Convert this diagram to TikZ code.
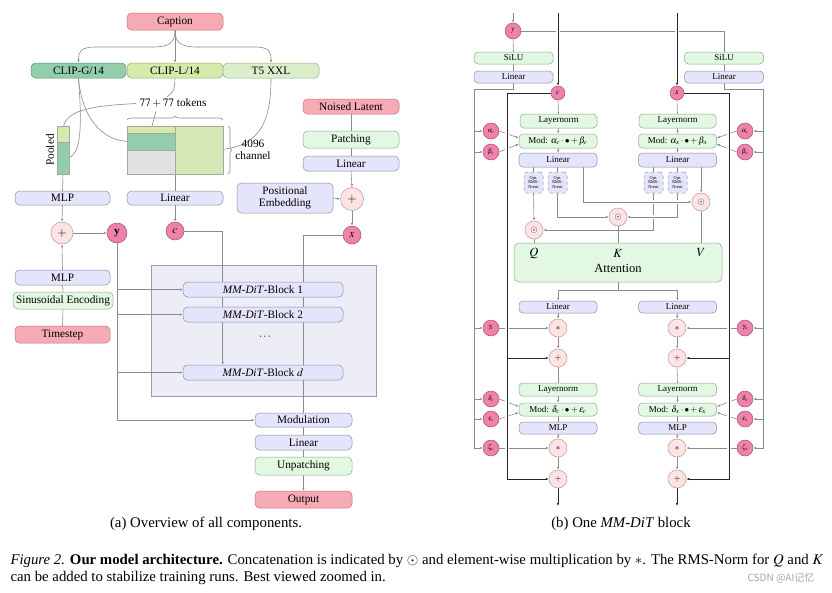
\documentclass[tikz,border=0pt]{standalone}
\usepackage{mathptmx}
\usepackage[no-math]{fontspec}
\setmainfont{Liberation Serif}
\newfontfamily\cjk{Noto Sans CJK SC}
\usetikzlibrary{arrows.meta,decorations.pathreplacing,calc}
\definecolor{pinkF}{HTML}{F6AAB4}\definecolor{pinkD}{HTML}{C86E7D}
\definecolor{dpinkF}{HTML}{EE82AA}\definecolor{dpinkD}{HTML}{AA506E}
\definecolor{lpinkF}{HTML}{FDE4E4}\definecolor{lpinkD}{HTML}{BE9696}
\definecolor{lavF}{HTML}{E4E4FA}\definecolor{lavD}{HTML}{8C8CAA}
\definecolor{mintF}{HTML}{E2F8E2}\definecolor{mintD}{HTML}{8CAA8C}
\definecolor{clipG}{HTML}{92CEAC}\definecolor{clipGD}{HTML}{5A8C6E}
\definecolor{clipL}{HTML}{D6EAAC}\definecolor{clipLD}{HTML}{96AA6E}
\definecolor{tfive}{HTML}{DAEECA}\definecolor{tfiveD}{HTML}{96AF8C}
\definecolor{mRight}{HTML}{D4E8B6}\definecolor{mGray}{HTML}{E2E2E2}
\definecolor{blockbg}{HTML}{EDEDF8}\definecolor{blockD}{HTML}{9A9AB0}
\definecolor{lineG}{HTML}{8C8C8C}
\pgfdeclarelayer{back}\pgfdeclarelayer{bg}\pgfsetlayers{back,bg,main}
\tikzset{
  fA/.style={font=\fontsize{11.3}{12.5}\selectfont},
  bxA/.style={draw, rounded corners=4.5pt, line width=0.5pt, inner sep=0pt, fA},
  bxB/.style={draw, rounded corners=4pt, line width=0.5pt, inner sep=0pt, font=\fontsize{9}{10}\selectfont},
  lav/.style={fill=lavF, draw=lavD},
  mint/.style={fill=mintF, draw=mintD},
  pnk/.style={fill=pinkF, draw=pinkD},
  opc/.style={circle, draw=lpinkD, fill=lpinkF, line width=0.5pt, inner sep=0pt},
  var/.style={circle, draw=dpinkD, fill=dpinkF, line width=0.5pt, inner sep=0pt},
  mcell/.style={draw=gray!70, line width=0.4pt, inner sep=0pt, outer sep=0pt, anchor=north west},
  rms/.style={draw=lavD, dashed, fill=lavF, rounded corners=3pt, line width=0.5pt, inner sep=0pt,
     minimum width=19pt, minimum height=21pt, align=center, font=\fontsize{4.3}{4.8}\selectfont},
  ln/.style={draw=lineG, line width=0.6pt},
  tip/.style={-{Latex[length=3pt,width=2.4pt]}},
  arr/.style={ln, tip},
  ghar/.style={ln, tip, preaction={draw=white, line width=3.5pt}},
  blk/.style={draw=black!85, line width=1pt, tip, preaction={draw=white, line width=4.5pt}},
  blkp/.style={draw=black!85, line width=1pt, tip},
}
\begin{document}
\begin{tikzpicture}[x=1pt,y=-1pt]
\useasboundingbox (0,0) rectangle (832,592);
\begin{pgfonlayer}{back}
\fill[white] (0,0) rectangle (832,592);
\filldraw[fill=blockbg, draw=blockD, line width=0.6pt] (151,265) rectangle (376,396);
\end{pgfonlayer}

% ================= (a) nodes =================
\node[bxA,pnk,minimum width=96pt,minimum height=17pt] (cap) at (175,21.5) {Caption};
\node[bxA,fill=clipG,draw=clipGD,minimum width=95pt,minimum height=15pt] (clipg) at (78.5,70.5) {CLIP-G/14};
\node[bxA,fill=clipL,draw=clipLD,minimum width=96pt,minimum height=15pt] (clipl) at (175,70.5) {CLIP-L/14};
\node[bxA,fill=tfive,draw=tfiveD,minimum width=96pt,minimum height=15pt] (tfive) at (271,70.5) {T5 XXL};
\node[fA] (tok) at (173,103.5) {$77+77$ tokens};
\node[mcell,fill=clipL,minimum width=48pt,minimum height=7pt] (mtop) at (127,126) {};
\node[mcell,fill=clipG,minimum width=48pt,minimum height=17pt] (mmid) at (127,133) {};
\node[mcell,fill=mGray,minimum width=48pt,minimum height=24pt] (mbot) at (127,150) {};
\node[mcell,fill=mRight,minimum width=48pt,minimum height=48pt] (mright) at (175,126) {};
\node[mcell,fill=clipL,minimum width=12pt,minimum height=16pt] (ptop) at (57,126) {};
\node[mcell,fill=clipG,minimum width=12pt,minimum height=32pt] (pbot) at (57,142) {};
\node[fA,rotate=90] (pooled) at (50,150) {Pooled};
\node[fA,align=center] (chan) at (253,150) {4096\\channel};
\node[bxA,lav,minimum width=95pt,minimum height=14pt] (mlpa) at (62.5,198) {MLP};
\node[bxA,lav,minimum width=96pt,minimum height=14pt] (lina) at (175,198) {Linear};
\node[bxA,pnk,minimum width=96pt,minimum height=15pt] (noise) at (351,106.5) {Noised Latent};
\node[bxA,mint,minimum width=96pt,minimum height=17pt] (patch) at (351,139.5) {Patching};
\node[bxA,lav,minimum width=96pt,minimum height=15pt] (linb) at (351,163.5) {Linear};
\node[bxA,lav,minimum width=96pt,minimum height=30pt,align=center] (pos) at (285,198) {Positional\\Embedding};
\node[opc,minimum size=23pt,font=\fontsize{12}{12}\selectfont] (plusa) at (352,199) {$+$};
\node[opc,minimum size=22pt,font=\fontsize{12}{12}\selectfont] (plusb) at (62,233) {$+$};
\node[var,minimum size=20pt,fA] (ya) at (117,233) {\textbf{y}};
\node[var,minimum size=18pt,fA] (ca) at (175,231) {$c$};
\node[var,minimum size=18pt,fA] (xa) at (352,235) {$x$};
\node[bxA,lav,minimum width=95pt,minimum height=15pt] (mlpb) at (62.5,277.5) {MLP};
\node[bxA,mint,minimum width=100pt,minimum height=17pt] (sin) at (63,300.5) {Sinusoidal Encoding};
\node[bxA,pnk,minimum width=95pt,minimum height=17pt] (ts) at (62.5,334.5) {Timestep};
\node[bxA,lav,minimum width=160pt,minimum height=15pt] (b1) at (263,289.5) {\textit{MM-DiT}-Block 1};
\node[bxA,lav,minimum width=160pt,minimum height=15pt] (b2) at (263,314.5) {\textit{MM-DiT}-Block 2};
\node[fA] (dots) at (265,337) {$\cdots$};
\node[bxA,lav,minimum width=160pt,minimum height=15pt] (bd) at (263,372.5) {\textit{MM-DiT}-Block $d$};
\node[bxA,lav,minimum width=97pt,minimum height=14pt] (mod) at (303.5,420) {Modulation};
\node[bxA,lav,minimum width=97pt,minimum height=15pt] (lin3) at (303.5,442.5) {Linear};
\node[bxA,mint,minimum width=97pt,minimum height=18pt] (unp) at (303.5,466) {Unpatching};
\node[bxA,pnk,minimum width=97pt,minimum height=17pt] (out) at (303.5,499.5) {Output};

% ================= (b) nodes =================
\coordinate (topy) at (513,13); \coordinate (topc) at (558,13); \coordinate (topx) at (677,13);
\coordinate (railTL) at (474,89); \coordinate (railTR) at (763,89);
\coordinate (bkL) at (507,93); \coordinate (bkR) at (729,93);
\coordinate (outc) at (558,506); \coordinate (outx) at (677,506);
\node[var,minimum size=16pt,font=\fontsize{8}{8}\selectfont] (yr) at (513,31) {$y$};
\node[bxB,mint,minimum width=79pt,minimum height=12pt] (silL) at (513.5,58) {SiLU};
\node[bxB,lav,minimum width=79pt,minimum height=12pt] (linL) at (513.5,77) {Linear};
\node[bxB,mint,minimum width=79pt,minimum height=12pt] (silR) at (724,58) {SiLU};
\node[bxB,lav,minimum width=79pt,minimum height=12pt] (linR) at (724,77) {Linear};
\node[var,minimum size=14pt,font=\fontsize{8}{8}\selectfont] (cr) at (558,93) {$c$};
\node[var,minimum size=14pt,font=\fontsize{8}{8}\selectfont] (xr) at (677,93) {$x$};
\node[bxB,mint,minimum width=77pt,minimum height=14pt] (lnc) at (558.5,121) {Layernorm};
\node[bxB,mint,minimum width=78pt,minimum height=14pt] (modc) at (558,141) {Mod: $\alpha_c\cdot\bullet+\beta_c$};
\node[bxB,lav,minimum width=78pt,minimum height=14pt] (linc) at (558,160) {Linear};
\node[bxB,mint,minimum width=77pt,minimum height=14pt] (lnx) at (677.5,121) {Layernorm};
\node[bxB,mint,minimum width=78pt,minimum height=14pt] (modx) at (677.5,141) {Mod: $\alpha_x\cdot\bullet+\beta_x$};
\node[bxB,lav,minimum width=78pt,minimum height=14pt] (linx) at (677.5,160) {Linear};
\tikzset{gv/.style={var,minimum size=16pt,font=\fontsize{6.5}{7}\selectfont}}
\node[gv] (ac) at (491,131) {$\alpha_c$};
\node[gv] (bc) at (491,152) {$\beta_c$};
\node[gv] (ax) at (745,131) {$\alpha_x$};
\node[gv] (bx) at (745,152) {$\beta_x$};
\node[rms] (r1) at (533.5,182.5) {Opt.\\RMS-\\Norm};
\node[rms] (r2) at (557.5,182.5) {Opt.\\RMS-\\Norm};
\node[rms] (r3) at (653.5,182.5) {Opt.\\RMS-\\Norm};
\node[rms] (r4) at (677.5,182.5) {Opt.\\RMS-\\Norm};
\tikzset{oc/.style={opc,minimum size=18pt,font=\fontsize{9}{9}\selectfont}}
\node[oc] (catq) at (534,230) {$\odot$};
\node[oc] (catk) at (618,217) {$\odot$};
\node[oc] (catv) at (701,202) {$\odot$};
\node[draw=mintD,fill=mintF,rounded corners=5pt,line width=0.5pt,minimum width=208pt,minimum height=39pt,inner sep=0pt] (att) at (618,262.5) {};
\tikzset{fq/.style={font=\fontsize{12.5}{14}\selectfont}}
\node[fq] (ql) at (534,253) {$Q$};
\node[fq] (kl) at (618,253) {$K$};
\node[fq] (vl) at (701,253) {$V$};
\node[fq] (attl) at (618,268) {Attention};
\node[bxB,lav,minimum width=78pt,minimum height=12pt] (linc2) at (558,307) {Linear};
\node[bxB,lav,minimum width=78pt,minimum height=12pt] (linx2) at (677.5,307) {Linear};
\node[oc] (mulc1) at (558,328) {$\ast$};
\node[oc] (addc1) at (558,358) {$+$};
\node[oc] (mulx1) at (677,328) {$\ast$};
\node[oc] (addx1) at (677,358) {$+$};
\node[gv] (gc) at (491,328) {$\gamma_c$};
\node[gv] (gx) at (745,328) {$\gamma_x$};
\node[bxB,mint,minimum width=78pt,minimum height=13pt] (ln2c) at (558,389.5) {Layernorm};
\node[bxB,mint,minimum width=78pt,minimum height=13pt] (mod2c) at (558,409.5) {Mod: $\delta_c\cdot\bullet+\epsilon_c$};
\node[bxB,lav,minimum width=78pt,minimum height=12pt] (mlpc) at (558,428) {MLP};
\node[bxB,mint,minimum width=78pt,minimum height=13pt] (ln2x) at (677.5,389.5) {Layernorm};
\node[bxB,mint,minimum width=78pt,minimum height=13pt] (mod2x) at (677.5,409.5) {Mod: $\delta_x\cdot\bullet+\epsilon_x$};
\node[bxB,lav,minimum width=78pt,minimum height=12pt] (mlpx) at (677.5,428) {MLP};
\node[gv] (dc) at (491,399) {$\delta_c$};
\node[gv] (ec) at (491,419) {$\epsilon_c$};
\node[gv] (zc) at (491,448) {$\zeta_c$};
\node[gv] (dx) at (745,399) {$\delta_x$};
\node[gv] (ex) at (745,419) {$\epsilon_x$};
\node[gv] (zx) at (745,448) {$\zeta_x$};
\node[oc] (mulc2) at (558,448) {$\ast$};
\node[oc] (addc2) at (558,479) {$+$};
\node[oc] (mulx2) at (677,448) {$\ast$};
\node[oc] (addx2) at (677,479) {$+$};

% ================= captions =================
\tikzset{fC/.style={font=\fontsize{14.8}{17}\selectfont}}
\node[fC] (capa) at (206,524) {(a) Overview of all components.};
\node[fC] (capb) at (621,524) {(b) One \textit{MM-DiT} block};
\node[fC,anchor=west] (cl1) at (7,561) {\textit{Figure 2.} \textbf{Our model architecture.} Concatenation is indicated by $\odot$ and element-wise multiplication by $\ast$. The RMS-Norm for $Q$ and $K$};
\node[fC,anchor=west] (cl2) at (7,578) {can be added to stabilize training runs. Best viewed zoomed in.};
\node[anchor=east,text=gray!70,font=\cjk\fontsize{10}{12}\selectfont] (wm) at (818,578) {CSDN @AI记忆};

% ================= connectors =================
\begin{pgfonlayer}{bg}
% (a)
\draw[arr] (cap.south) -- (clipl.north);
\draw[arr] (cap.south) .. controls (175,44) and (168,47) .. (152,47) -- (96,47) .. controls (80,47) and (78.5,52) .. (clipg.north);
\draw[arr] (cap.south) .. controls (175,44) and (182,47) .. (198,47) -- (254,47) .. controls (270,47) and (271,52) .. (tfive.north);
\draw[ln] (clipl.south) .. controls (175,90) and (172,94) .. ($(tok.north)+(-6,1)$);
\draw[arr] (tok.west) .. controls (90,106) and (63,110) .. (ptop.center);
\draw[arr] ($(tok.south)+(-17,0)$) -- (mtop.center);
\draw[arr] (clipg.south) .. controls (82,125) and (82,158) .. (pbot.center);
\draw[arr] (clipg.south) .. controls (82,118) and (102,141.5) .. ($(mmid.west)+(6,0)$);
\draw[arr] (tfive.south) .. controls (271,125) and (258,150) .. ($(mright.east)+(-15,0)$);
\draw[ln,decorate,decoration={brace,amplitude=4pt}] (127,120) -- (223,120);
\draw[ln,decorate,decoration={brace,amplitude=4pt}] (228,126) -- (228,174);
\draw[ln] (pbot.south) -- (mlpa.north);
\draw[ln] (mright.south west) -- (lina.north);
\draw[arr] (mlpa.south) -- (plusb.north);
\draw[arr] (lina.south) -- (ca.north);
\draw[ln] (noise.south) -- (patch.north);
\draw[ln] (patch.south) -- (linb.north);
\draw[arr] (linb.south) -- (plusa.north);
\draw[arr] (pos.east) -- (plusa.west);
\draw[arr] (plusa.south) -- (xa.north);
\draw[arr] (mlpb.north) -- (plusb.south);
\draw[ln] (sin.north) -- (mlpb.south);
\draw[ln] (ts.north) -- (sin.south);
\draw[arr] (plusb.east) -- (ya.west);
\draw[arr] (ya.south) |- (mod.west);
\draw[arr] (ya.south |- b1.west) -- (b1.west);
\draw[arr] (ya.south |- b2.west) -- (b2.west);
\draw[arr] (ya.south |- bd.west) -- (bd.west);
\draw[arr] (ca.east) -| ($(bd.north west)+(40,0)$);
\draw[ln] (xa.west) -| (mod.north);
\draw[ln] (mod.south) -- (lin3.north);
\draw[ln] (lin3.south) -- (unp.north);
\draw[arr] (unp.south) -- (out.north);
% (b) gray
\draw[arr] (topy) -- (yr.north);
\draw[ln] (yr.south) -- (silL.north);
\draw[ln] (silL.south) -- (linL.north);
\draw[ln] (yr.east) -| (silR.north);
\draw[ln] (silR.south) -- (linR.north);
\draw[arr] (linL.south) -- (linL.south |- railTL) -- (railTL) |- (zc.west);
\foreach \n in {ac,bc,gc,dc,ec} \draw[arr] (railTL |- \n.west) -- (\n.west);
\draw[arr] (linR.south) -- (linR.south |- railTR) -- (railTR) |- (zx.east);
\foreach \n in {ax,bx,gx,dx,ex} \draw[arr] (railTR |- \n.east) -- (\n.east);
\draw[arr] (ac.east) -- ($(modc.west)+(0,-3)$);
\draw[arr] (bc.east) -- ($(modc.west)+(0,3)$);
\draw[arr] (ax.west) -- ($(modx.east)+(0,-3)$);
\draw[arr] (bx.west) -- ($(modx.east)+(0,3)$);
\draw[arr] (dc.east) -- ($(mod2c.west)+(0,-3)$);
\draw[arr] (ec.east) -- ($(mod2c.west)+(0,3)$);
\draw[arr] (dx.west) -- ($(mod2x.east)+(0,-3)$);
\draw[arr] (ex.west) -- ($(mod2x.east)+(0,3)$);
\draw[arr] (gc.east) -- (mulc1.west);
\draw[arr] (zc.east) -- (mulc2.west);
\draw[arr] (gx.west) -- (mulx1.east);
\draw[arr] (zx.west) -- (mulx2.east);
\draw[ln] (cr.south) -- (lnc.north);
\draw[arr] (lnc.south) -- (modc.north);
\draw[arr] (modc.south) -- (linc.north);
\draw[ln] (xr.south) -- (lnx.north);
\draw[arr] (lnx.south) -- (modx.north);
\draw[arr] (modx.south) -- (linx.north);
\draw[ln] (r1.north |- linc.south) -- (r1.north);
\draw[ln] (r2.north |- linc.south) -- (r2.north);
\draw[ln] (r3.north |- linx.south) -- (r3.north);
\draw[ln] (r4.north |- linx.south) -- (r4.north);
\draw[arr] (r1.south) -- (catq.north);
\draw[arr] (r2.south) |- (catk.west);
\draw[ghar] (r3.south) |- (catq.east);
\draw[ghar] (r4.south) |- (catk.east);
\draw[ghar] ($(linc.south east)+(-14,0)$) |- (catv.west);
\draw[arr] (catv.north |- linx.south) -- (catv.north);
\draw[ln] (catq.south) -- (catq.south |- att.north);
\draw[ln] (catk.south) -- (att.north);
\draw[ln] (catv.south) -- (catv.south |- att.north);
\draw[ln] (att.south) -- ($(att.south)+(0,8)$);
\draw[arr] ($(att.south)+(0,8)$) -| (linc2.north);
\draw[arr] ($(att.south)+(0,8)$) -| (linx2.north);
\draw[arr] (linc2.south) -- (mulc1.north);
\draw[arr] (mulc1.south) -- (addc1.north);
\draw[ln] (addc1.south) -- (ln2c.north);
\draw[arr] (ln2c.south) -- (mod2c.north);
\draw[ln] (mod2c.south) -- (mlpc.north);
\draw[arr] (mlpc.south) -- (mulc2.north);
\draw[arr] (mulc2.south) -- (addc2.north);
\draw[arr] (linx2.south) -- (mulx1.north);
\draw[arr] (mulx1.south) -- (addx1.north);
\draw[ln] (addx1.south) -- (ln2x.north);
\draw[arr] (ln2x.south) -- (mod2x.north);
\draw[ln] (mod2x.south) -- (mlpx.north);
\draw[arr] (mlpx.south) -- (mulx2.north);
\draw[arr] (mulx2.south) -- (addx2.north);
% (b) black residual paths
\draw[blk] (topc) -- (cr.north);
\draw[blk] (topx) -- (xr.north);
\draw[blk] (cr.west) -- (bkL) |- (addc2.west);
\draw[blk] (xr.east) -- (bkR) |- (addx2.east);
\draw[blkp] (bkL |- addc1.west) -- (addc1.west);
\draw[blkp] (bkR |- addx1.east) -- (addx1.east);
\draw[blkp] (addc2.south) -- (outc);
\draw[blkp] (addx2.south) -- (outx);
\end{pgfonlayer}
\end{tikzpicture}
\end{document}
